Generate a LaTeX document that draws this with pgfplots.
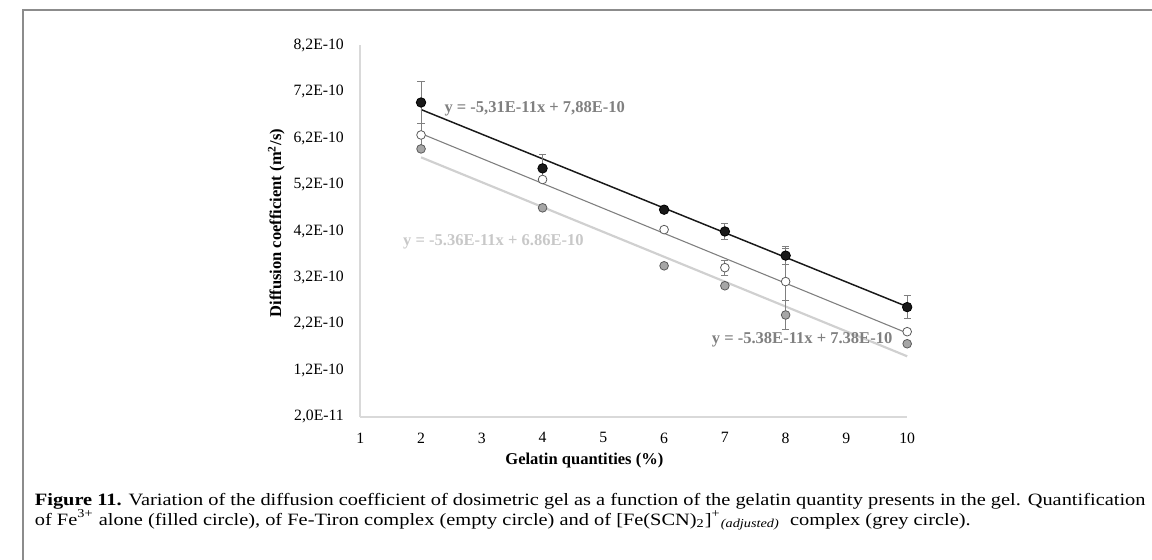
\documentclass[border=0pt]{standalone}
\usepackage{fontspec}
\setmainfont{Liberation Serif}
\usepackage{pgfplots}
\pgfplotsset{compat=1.18}

\definecolor{axisgrey}{HTML}{D9D9D9}
\definecolor{eqgrey}{HTML}{808080}
\definecolor{eqlight}{HTML}{C8C8C8}
\definecolor{midline}{HTML}{7F7F7F}
\definecolor{lightline}{HTML}{D0D0D0}
\definecolor{dotgrey}{HTML}{A6A6A6}
\definecolor{rimgrey}{HTML}{5A5A5A}
\definecolor{framegrey}{HTML}{8C8C8C}

\newsavebox\capA
\newsavebox\capB

\begin{document}
% caption lines, measured before the picture
\sbox\capA{\fontsize{8.8}{10}\selectfont\textbf{Figure 11.} Variation of the diffusion coefficient of dosimetric gel as a function of the gelatin quantity presents in the gel. Quantification}
\sbox\capB{\fontsize{8.8}{10}\selectfont of Fe\textsuperscript{3+} alone (filled circle), of Fe-Tiron complex (empty circle) and of [Fe(SCN)\textsubscript{2}]\textsuperscript{+}\textsubscript{\textit{(adjusted)}}\ \ complex (grey circle).}
\pgfmathsetmacro\capscale{564.6/\the\wd\capA}
\begin{tikzpicture}[x=1bp,y=1bp]
\useasboundingbox (0,0) rectangle (576,283.5);
% frame of the figure
\draw[framegrey, line width=1bp] (4.25,0) -- (4.25,278.25) -- (576,278.25);

\begin{axis}[
  at={(175bp,72.5bp)}, anchor=south west,
  scale only axis, width=277bp, height=188bp,
  xmin=1, xmax=10, ymin=2e-11, ymax=8.2e-10,
  axis x line*=bottom, axis y line*=left,
  axis line style={axisgrey, line width=1bp, -},
  xtick={1,2,...,10},
  xticklabels={1,2,3,4,5,6,7,8,9,10},
  ytick={2e-11,1.2e-10,2.2e-10,3.2e-10,4.2e-10,5.2e-10,6.2e-10,7.2e-10,8.2e-10},
  yticklabels={{2,0E-11},{1,2E-10},{2,2E-10},{3,2E-10},{4,2E-10},{5,2E-10},{6,2E-10},{7,2E-10},{8,2E-10}},
  scaled y ticks=false,
  major tick length=0pt,
  tick style={draw=none},
  ticklabel style={font=\fontsize{8}{9.6}\selectfont},
  yticklabel style={xshift=-4.8bp},
  xticklabel style={yshift=-4.6bp},
  clip=false,
  error bars/error bar style={midline, line width=0.5bp},
  error bars/error mark options={rotate=90, midline, mark size=1.8bp, line width=0.5bp},
]
% trend lines
\addplot[lightline, line width=1.1bp] coordinates {(2,5.788e-10) (10,1.5e-10)};
\addplot[midline, line width=0.55bp] coordinates {(2,6.30e-10) (10,2.00e-10)};
\addplot[black!90, line width=0.75bp] coordinates {(2,6.818e-10) (10,2.57e-10)};

% grey circles, [Fe(SCN)2]+ adjusted
\addplot[only marks, mark=*, mark size=2.2bp, mark options={fill=dotgrey, draw=rimgrey, line width=0.4bp},
  error bars/.cd, y dir=both, y explicit] coordinates {
  (2,5.97e-10) +- (0,0)
  (4,4.70e-10) +- (0,0)
  (6,3.45e-10) +- (0,0)
  (7,3.02e-10) +- (0,0)
  (8,2.39e-10) +- (0,0.31e-10)
  (10,1.77e-10) +- (0,0)
};
% empty circles, Fe-Tiron
\addplot[only marks, mark=*, mark size=2.2bp, mark options={fill=white, draw=rimgrey, line width=0.4bp},
  error bars/.cd, y dir=both, y explicit] coordinates {
  (2,6.27e-10) +- (0,0.25e-10)
  (4,5.31e-10) +- (0,0)
  (6,4.23e-10) +- (0,0)
  (7,3.41e-10) +- (0,0.16e-10)
  (8,3.11e-10) +- (0,0.72e-10)
  (10,2.03e-10) +- (0,0)
};
% filled circles, Fe3+ alone
\addplot[only marks, mark=*, mark size=2.4bp, mark options={fill=black!90, draw=black},
  error bars/.cd, y dir=both, y explicit] coordinates {
  (2,6.97e-10) +- (0,0.45e-10)
  (4,5.55e-10) +- (0,0.30e-10)
  (6,4.66e-10) +- (0,0)
  (7,4.19e-10) +- (0,0.17e-10)
  (8,3.67e-10) +- (0,0.19e-10)
  (10,2.56e-10) +- (0,0.24e-10)
};

\node[anchor=west, eqgrey, font=\bfseries\fontsize{8.4}{10}\selectfont, inner sep=0pt]
  at (axis cs:2.38,6.84e-10) {y = -5,31E-11x + 7,88E-10};
\node[anchor=west, eqlight, font=\bfseries\fontsize{8.4}{10}\selectfont, inner sep=0pt]
  at (axis cs:1.70,3.97e-10) {y = -5.36E-11x + 6.86E-10};
\node[anchor=west, eqgrey, font=\bfseries\fontsize{8.4}{10}\selectfont, inner sep=0pt]
  at (axis cs:6.78,1.86e-10) {y = -5.38E-11x + 7.38E-10};
\end{axis}

% axis titles
\node[rotate=90, font=\bfseries\fontsize{8.4}{10}\selectfont] at (132.5,170.5) {Diffusion coefficient (m\textsuperscript{2}/s)};
\node[font=\bfseries\fontsize{8.4}{10}\selectfont] at (288.5,50) {Gelatin quantities (\%)};

% caption
\node[anchor=base west, inner sep=0pt] at (10,27.5) {\scalebox{\capscale}[1]{\usebox\capA}};
\node[anchor=base west, inner sep=0pt] at (10,17.5) {\scalebox{\capscale}[1]{\usebox\capB}};
\end{tikzpicture}
\end{document}
